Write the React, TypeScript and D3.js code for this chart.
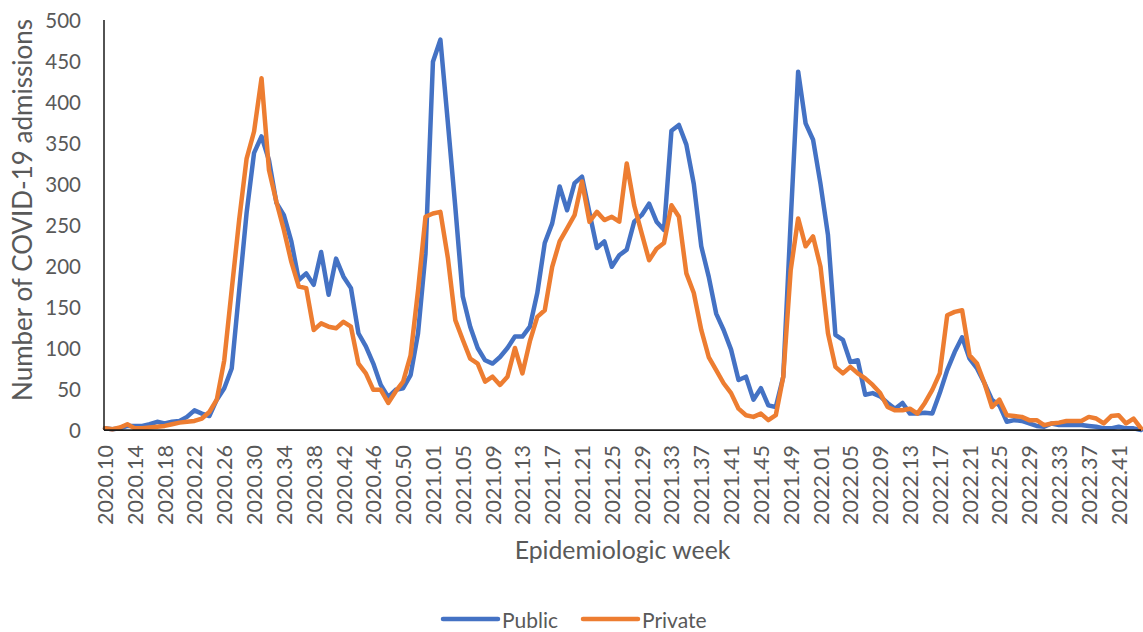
import React from 'react'
import * as d3 from 'd3'

const WIDTH = 1143
const HEIGHT = 632

// epidemiologic weeks shown: [year, first week, last week]
const yearSpans: [number, number, number][] = [
  [2020, 10, 53],
  [2021, 1, 52],
  [2022, 1, 44]
]

const weeks: string[] = yearSpans.flatMap(([year, from, to]) =>
  d3.range(from, to + 1).map(w => `${year}.${String(w).padStart(2, '0')}`)
)

// one value per week
const publicAdmissions = [
  2, 1, 2, 5, 5, 5, 7, 10, 8, 10, 11, 16, 24, 20, 17, 37, 51, 75, 170, 265,
  338, 358, 329, 277, 262, 230, 183, 191, 177, 217, 165, 209, 187, 173, 118, 102, 81, 55, 40, 49,
  51, 67, 118, 215, 449, 476, 375, 272, 163, 126, 100, 85, 81, 89, 100, 114, 114, 126, 167, 228,
  252, 297, 268, 301, 309, 265, 222, 230, 199, 213, 220, 254, 262, 276, 254, 244, 365, 372, 348, 300,
  224, 187, 142, 122, 98, 61, 65, 37, 51, 30, 28, 65, 255, 437, 374, 354, 300, 238, 116, 110,
  83, 85, 43, 45, 41, 33, 26, 33, 20, 20, 21, 20, 45, 73, 95, 113, 87, 75, 57, 37,
  30, 10, 12, 11, 8, 5, 4, 8, 6, 6, 6, 6, 5, 4, 2, 2, 4, 2, 2, 0
]

const privateAdmissions = [
  2, 1, 3, 7, 2, 2, 3, 4, 5, 7, 9, 10, 11, 14, 22, 37, 85, 171, 256, 331,
  364, 429, 317, 278, 244, 205, 175, 173, 122, 130, 126, 124, 132, 126, 81, 69, 49, 49, 33, 47,
  59, 91, 170, 260, 264, 266, 210, 134, 110, 87, 81, 59, 65, 55, 65, 100, 69, 108, 138, 146,
  199, 230, 246, 262, 303, 254, 266, 256, 260, 254, 325, 274, 240, 207, 221, 228, 274, 260, 191, 167,
  122, 89, 73, 57, 45, 26, 18, 16, 20, 12, 18, 65, 195, 258, 224, 236, 199, 118, 77, 69,
  77, 69, 63, 55, 45, 28, 24, 24, 26, 20, 33, 49, 69, 140, 144, 146, 91, 81, 57, 28,
  37, 18, 17, 16, 12, 12, 6, 8, 9, 11, 11, 11, 16, 14, 8, 17, 18, 8, 14, 2
]

const yTicks = [0, 50, 100, 150, 200, 250, 300, 350, 400, 450, 500]

const seriesList = [
  { name: 'Public', values: publicAdmissions, color: '#4472C4' },
  { name: 'Private', values: privateAdmissions, color: '#ED7D31' }
]

const FONT = "Lato, 'Open Sans', sans-serif"
const TEXT = '#595959'

export default function App() {
  const margin = { top: 20, right: 2, bottom: 202, left: 104 }
  const plotRight = WIDTH - margin.right
  const plotBottom = HEIGHT - margin.bottom

  const x = d3
    .scalePoint<string>()
    .domain(weeks)
    .range([margin.left + 1, plotRight])

  const y = d3
    .scaleLinear()
    .domain([0, 500])
    .range([plotBottom, margin.top])

  const line = d3
    .line<number>()
    .x((_, i) => x(weeks[i]) as number)
    .y(d => y(d))

  const labelled = weeks.filter((_, i) => i % 4 === 0)
  const midX = (margin.left + plotRight) / 2

  return (
    <svg
      width={WIDTH}
      height={HEIGHT}
      style={{ position: 'absolute', left: 0, top: 0, background: '#fff' }}
      fontFamily={FONT}
    >
      {/* y tick labels */}
      {yTicks.map(t => (
        <text
          key={t}
          x={81}
          y={y(t)}
          textAnchor="end"
          dominantBaseline="central"
          fontSize={20.5}
          fill={TEXT}
        >
          {t}
        </text>
      ))}

      {/* x tick labels, every 4th week */}
      {labelled.map(w => (
        <text
          key={w}
          transform={`translate(${x(w)},${plotBottom + 15}) rotate(-90)`}
          textAnchor="end"
          dominantBaseline="central"
          fontSize={21.5}
          fill={TEXT}
        >
          {w}
        </text>
      ))}

      {/* series */}
      {seriesList.map(s => (
        <path
          key={s.name}
          d={line(s.values) || ''}
          fill="none"
          stroke={s.color}
          strokeWidth={4.5}
          strokeLinejoin="round"
          strokeLinecap="round"
        />
      ))}

      {/* axes */}
      <line
        x1={margin.left}
        x2={margin.left}
        y1={margin.top}
        y2={plotBottom}
        stroke="#1a1a1a"
        strokeWidth={1.5}
      />
      <line
        x1={margin.left}
        x2={plotRight}
        y1={plotBottom}
        y2={plotBottom}
        stroke="#1a1a1a"
        strokeWidth={1.75}
      />

      {/* axis titles */}
      <text
        transform={`translate(22,210) rotate(-90)`}
        textAnchor="middle"
        dominantBaseline="central"
        fontSize={26}
        fill={TEXT}
      >
        Number of COVID-19 admissions
      </text>
      <text
        x={midX}
        y={549}
        textAnchor="middle"
        dominantBaseline="central"
        fontSize={24.8}
        fill={TEXT}
      >
        Epidemiologic week
      </text>

      {/* legend */}
      {seriesList.map((s, i) => {
        const lx = 443 + i * 140
        return (
          <g key={s.name}>
            <line
              x1={lx}
              x2={lx + 55}
              y1={619}
              y2={619}
              stroke={s.color}
              strokeWidth={4.5}
              strokeLinecap="round"
            />
            <text
              x={lx + 59}
              y={619}
              dominantBaseline="central"
              fontSize={21}
              fill={TEXT}
            >
              {s.name}
            </text>
          </g>
        )
      })}
    </svg>
  )
}
